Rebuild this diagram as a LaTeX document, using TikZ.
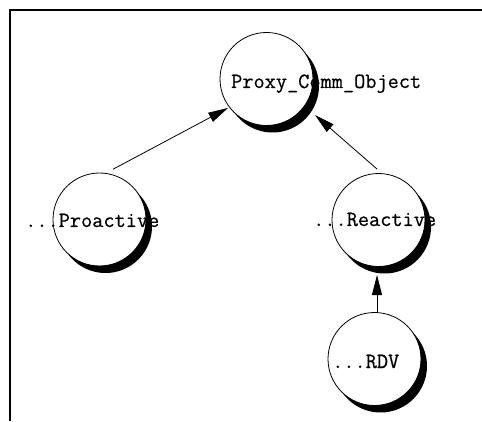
\documentclass[tikz,border=0pt]{standalone}
\usepackage{fontspec}
\newfontfamily\boldtt{Latin Modern Mono}[FakeBold=0.6]
\usetikzlibrary{arrows.meta,calc}
\newcommand\crescentof[1]{\fill ($(#1.center)+(34.9:46.5)$) arc[start angle=46.3,end angle=-145.1,radius=46.5] arc[start angle=-133.7,end angle=34.9,radius=46.5] -- cycle;}
\begin{document}
\begin{tikzpicture}[x=1pt,y=1pt,
  bubble/.style={circle,draw,fill=white,line width=0.8pt,minimum size=93pt,inner sep=0pt},
  lbl/.style={font=\boldtt\fontsize{21.7}{26}\selectfont,inner sep=0pt,anchor=base west},
  edge/.style={line width=0.8pt,-{Triangle[length=20pt,width=10pt]}},
  frameline/.style={line width=2pt}]
\useasboundingbox (0,0) rectangle (482,421);
\draw[frameline] (9.5,0) -- (9.5,411) -- (482,411);
% circles
\node[bubble] (top) at (266.5,342) {};
\node[bubble] (pro) at (99.5,201.5) {};
\node[bubble] (rea) at (378.5,201) {};
\node[bubble] (rdv) at (374.5,62) {};
% texts
\node[lbl] (ttop) at (231,333) {Proxy\_Comm\_Object};
\node[lbl] (tpro) at (25,194) {...Proactive};
\node[lbl] (trea) at (313,195) {...Reactive};
\node[lbl] (trdv) at (332,53) {...RDV};
% shadows
\crescentof{top}
\crescentof{pro}
\crescentof{rea}
\crescentof{rdv}
% connectors
\path (pro.center) ++(75:52) coordinate (p1);
\path (top.center) ++(217:48) coordinate (t1);
\draw[edge] (p1) -- (t1);
\path (rea.center) ++(-1.5,51) coordinate (r1);
\path (top.center) ++(48.5,-36) coordinate (t2);
\draw[edge] (r1) -- (t2);
\path (rdv.center) ++(2.5,46) coordinate (d1);
\path (rea.center) ++(-1.5,-55) coordinate (r2);
\draw[edge] (d1) -- (r2);
\end{tikzpicture}
\end{document}
